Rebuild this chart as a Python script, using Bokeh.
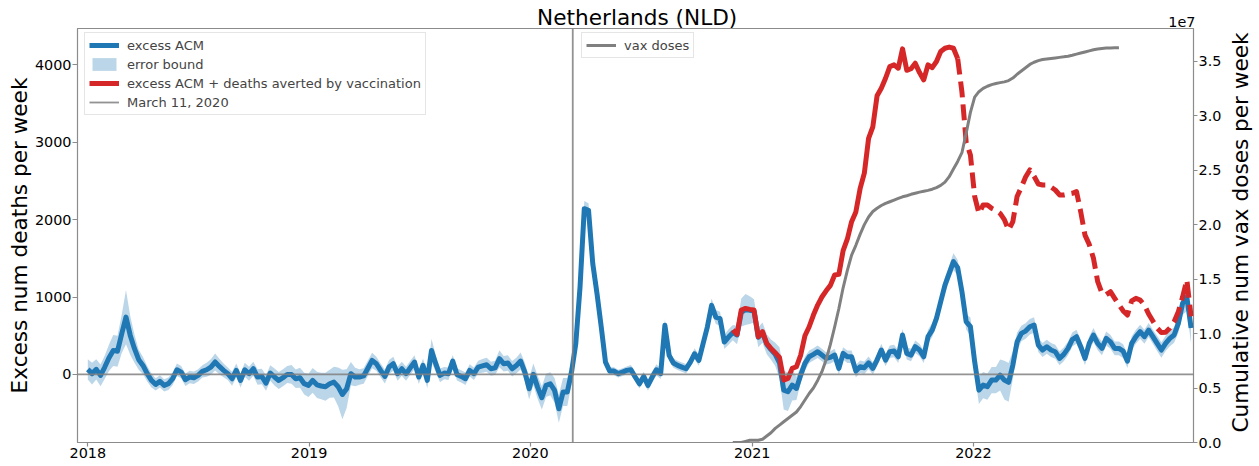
import math
import pandas as pd
from bokeh.plotting import figure
from bokeh.layouts import column, row
from bokeh.models import (Range1d, LinearAxis, FixedTicker, CustomJSTickFormatter,
                          DatetimeTickFormatter, Span, Legend, LegendItem, Label)
from bokeh.embed import file_html
from bokeh.resources import INLINE

FONT = "DejaVu Sans"

# ---------------- data (weekly) ----------------
first_week = "2018-01-01"

excess_2018 = [65, 10, 65, -13, 95, 215, 310, 300, 525, 741,
               504, 332, 190, 116, 9, -78, -129, -90, -142, -120,
               -56, 60, 30, -69, -34, -43, -13, 39, 60, 95,
               160, 103, 52, 9, -56, 52, -78, 60, 9, 73,
               -34, -26, -112, 17, -34, -78, -43, 0, 0, -56,
               -43, -120]
excess_2019 = [-142, -78, -135, -150, -160, -121, -100, -160, -259, -185,
               9, -34, -34, -20, 80, 181, 138, 52, -26, 95,
               138, 9, 73, 9, 86, 159, -34, 116, -78, 310,
               138, -13, 17, 9, 172, 0, -26, -56, 52, 9,
               95, 110, 125, 73, 86, 203, 138, 147, 73, 116,
               172, 30]
excess_2020 = [-185, 0, -164, -302, -142, -121, -207, -444, -228, -228,
               30, 397, 1129, 2142, 2121, 1431, 1043, 612, 159, 43,
               43, 9, 30, 52, 60, -34, -121, -26, -142, -34,
               60, 9, 634, 246, 147, 116, 95, 73, 159, 267,
               181, 397, 612, 892, 741, 720, 418, 483, 540, 510,
               800, 840]
excess_2021 = [830, 820, 480, 540, 390, 320, 260, 150, -203, -224,
               -138, -181, -9, 142, 228, 259, 293, 250, 207, 220,
               250, 78, 272, 228, 228, 43, 99, 86, 150, 78,
               185, 315, 185, 293, 302, 228, 509, 272, 250, 358,
               315, 228, 487, 573, 724, 940, 1155, 1306, 1457, 1380,
               1069, 681]
excess_2022 = [616, 164, -203, -138, -159, -73, -73, -9, -73, -103,
               121, 420, 530, 560, 616, 638, 379, 315, 358, 315,
               293, 207, 259, 336, 450, 487, 358, 207, 401, 509,
               401, 336, 465, 420, 336, 336, 300, 172, 401, 487,
               552, 487, 573, 487, 401, 315, 401, 465, 509, 659,
               918, 1000, 600]

error_2018 = [130, 140, 130, 140, 150, 170, 200, 200, 250, 350,
              250, 180, 130, 110, 100, 90, 80, 80, 80, 80,
              80, 80, 80, 80, 80, 80, 80, 80, 90, 100,
              110, 100, 90, 80, 90, 90, 90, 90, 90, 90,
              100, 100, 100, 100, 110, 110, 110, 110, 120, 120,
              130, 140]
error_2019 = [150, 160, 170, 170, 180, 180, 200, 250, 320, 250,
              150, 120, 100, 100, 100, 100, 90, 90, 90, 90,
              90, 90, 90, 90, 90, 90, 90, 90, 100, 150,
              110, 90, 80, 80, 80, 80, 80, 80, 80, 80,
              80, 90, 90, 90, 90, 110, 100, 100, 100, 100,
              110, 120]
error_2020 = [140, 140, 150, 150, 150, 150, 160, 180, 180, 180,
              150, 120, 100, 100, 90, 80, 70, 60, 60, 50,
              50, 50, 50, 50, 60, 60, 60, 60, 70, 70,
              70, 70, 80, 70, 60, 60, 60, 60, 60, 70,
              70, 80, 80, 90, 90, 90, 90, 100, 100, 120,
              180, 200]
error_2021 = [180, 150, 130, 130, 130, 130, 150, 200, 250, 250,
              200, 150, 100, 90, 80, 80, 80, 80, 80, 80,
              80, 80, 80, 80, 80, 80, 80, 80, 80, 80,
              80, 80, 80, 80, 80, 80, 80, 80, 80, 80,
              80, 80, 90, 90, 90, 90, 100, 100, 110, 100,
              100, 100]
error_2022 = [120, 150, 180, 170, 170, 170, 170, 200, 250, 250,
              180, 120, 100, 100, 100, 100, 90, 90, 90, 90,
              90, 90, 90, 90, 90, 90, 90, 90, 90, 90,
              90, 90, 90, 90, 90, 90, 90, 90, 90, 90,
              90, 90, 90, 90, 100, 100, 100, 100, 100, 120,
              150, 180, 200]

averted_start = "2020-11-30"
averted_solid = [573, 520, 832, 853, 840, 832, 487, 552, 401, 336,
                 280, 220, -73, -52, 78, 99, 250, 500, 616, 767,
                 896, 1000, 1080, 1150, 1284, 1293, 1600, 1750, 1974, 2100,
                 2400, 2600, 3050, 3200, 3600, 3698, 3827, 3978, 4000, 3957,
                 4207, 3930, 3950, 4021, 3900, 3806, 4000, 3965, 4043, 4172,
                 4215, 4230, 4215, 4080]
projected_start = "2021-12-06"
averted_dashed = [4080, 3650, 3000, 2836, 2300, 2082, 2189, 2189, 2146, 2120,
                  2080, 2000, 1866, 1974, 2300, 2420, 2550, 2642, 2560, 2460,
                  2448, 2448, 2420, 2383, 2319, 2319, 2330, 2340, 2362, 2100,
                  1800, 1680, 1500, 1198, 1050, 1030, 1069, 983, 900, 820,
                  767, 950, 983, 961, 896, 780, 690, 600, 540, 545,
                  600, 681, 810, 1000, 1220, 750]

vax_start = "2020-11-30"
vax_doses_millions = [0, 0, 0, 0.1, 0.2, 0.2, 0.2, 0.3, 0.6, 0.9,
                      1.3, 1.6, 1.9, 2.2, 2.5, 2.8, 3.3, 3.9, 4.5, 5.0,
                      5.7, 6.5, 7.6, 9.0, 10.6, 12.3, 14.2, 15.8, 17.2, 18.1,
                      19.1, 20.0, 20.7, 21.2, 21.5, 21.75, 21.95, 22.1, 22.25, 22.4,
                      22.55, 22.65, 22.78, 22.88, 22.98, 23.06, 23.14, 23.25, 23.4, 23.6,
                      23.9, 24.4, 25.1, 25.8, 26.6, 28.4, 30.3, 31.7, 32.2, 32.5,
                      32.7, 32.85, 32.95, 33.03, 33.1, 33.22, 33.45, 33.8, 34.1, 34.4,
                      34.7, 34.9, 35.05, 35.15, 35.2, 35.25, 35.3, 35.35, 35.4, 35.46,
                      35.55, 35.65, 35.75, 35.85, 35.95, 36.05, 36.12, 36.17, 36.2, 36.22,
                      36.23, 36.24]

march_11 = "2020-03-11"
year_ticks = [2018, 2019, 2020, 2021, 2022]
left_ticks = [0, 1000, 2000, 3000, 4000]
right_ticks_e7 = [0.0, 0.5, 1.0, 1.5, 2.0, 2.5, 3.0, 3.5]

title_text = "Netherlands (NLD)"
multiplier_text = "1e7"
left_label = "Excess num deaths per week"
right_label = "Cumulative num vax doses per week"

# ---------------- derived series ----------------
excess_acm = excess_2018 + excess_2019 + excess_2020 + excess_2021 + excess_2022
error_bound = error_2018 + error_2019 + error_2020 + error_2021 + error_2022
dates = pd.date_range(first_week, periods=len(excess_acm), freq="7D")
lower = [v - e for v, e in zip(excess_acm, error_bound)]
upper = [v + e for v, e in zip(excess_acm, error_bound)]
solid_dates = pd.date_range(averted_start, periods=len(averted_solid), freq="7D")
dashed_dates = pd.date_range(projected_start, periods=len(averted_dashed), freq="7D")
vax_dates = pd.date_range(vax_start, periods=len(vax_doses_millions), freq="7D")
vax_doses = [m * 1e6 for m in vax_doses_millions]

def ms(d):
    return pd.Timestamp(d).value // 10**6

# ---------------- layout sizes (pixels) ----------------
TOTAL_W = 1259
TOP_H = 28
MAIN_W, MAIN_H = 1224, 432
SIDE_W, SIDE_H = TOTAL_W - MAIN_W, 426
BOTTOM_AXIS = 18
frame_h = MAIN_H - BOTTOM_AXIS
Y_LO, Y_HI = -880, 4470

# ---------------- main figure ----------------
p = figure(width=MAIN_W, height=MAIN_H, x_axis_type="datetime",
           x_range=Range1d(pd.Timestamp("2017-12-15"), pd.Timestamp("2022-12-30")),
           y_range=Range1d(Y_LO, Y_HI),
           output_backend="svg", toolbar_location=None,
           min_border_left=77, min_border_right=28, min_border_top=0,
           min_border_bottom=10)
p.xgrid.visible = False
p.ygrid.visible = False
p.outline_line_color = "#8c8c8c"
p.outline_line_width = 1.2
p.background_fill_color = "white"
p.border_fill_color = "white"

p.extra_y_ranges = {"vax": Range1d(0, 3.8e7)}

GRAY_AX = "#8c8c8c"
for ax in [p.xaxis[0], p.yaxis[0]]:
    ax.axis_line_color = None
    ax.major_tick_line_color = GRAY_AX
    ax.major_tick_line_width = 1.2
    ax.minor_tick_line_color = None
    ax.major_tick_in = 0
    ax.major_label_text_font = FONT
    ax.major_label_text_font_size = "14.4px"
    ax.major_label_text_color = "black"
    ax.axis_label_text_font = FONT
    ax.axis_label_text_font_style = "normal"
    ax.axis_label_text_color = "black"

xa = p.xaxis[0]
xa.ticker = FixedTicker(ticks=[ms(f"{y}-01-01") for y in year_ticks])
xa.formatter = DatetimeTickFormatter(years="%Y", months="%Y", days="%Y", hours="%Y",
                                     minutes="%Y", seconds="%Y", milliseconds="%Y")
xa.major_tick_out = 4
xa.major_label_standoff = 1

ya = p.yaxis[0]
ya.ticker = FixedTicker(ticks=left_ticks)
ya.major_tick_out = 5
ya.major_label_standoff = 1
ya.axis_label = left_label
ya.axis_label_text_font_size = "21.6px"
ya.axis_label_standoff = 0

ra = LinearAxis(y_range_name="vax")
ra.ticker = FixedTicker(ticks=[t * 1e7 for t in right_ticks_e7])
ra.formatter = CustomJSTickFormatter(code="return (tick / 1e7).toFixed(1);")
ra.axis_line_color = None
ra.major_tick_line_color = GRAY_AX
ra.major_tick_line_width = 1.2
ra.minor_tick_line_color = None
ra.major_tick_in = 0
ra.major_tick_out = 4
ra.major_label_standoff = 1
ra.major_label_text_font = FONT
ra.major_label_text_font_size = "14.4px"
ra.major_label_text_color = "black"
p.add_layout(ra, "right")

p.add_layout(Span(location=0, dimension="width", line_color="gray",
                  line_alpha=0.85, line_width=1.6))

BLUE, RED = "#1f77b4", "#d62728"
band_r = p.varea(x=dates, y1=lower, y2=upper, fill_color=BLUE, fill_alpha=0.3)
blue_r = p.line(x=dates, y=excess_acm, line_color=BLUE, line_width=5, line_join="round")
red_r = p.line(x=solid_dates, y=averted_solid, line_color=RED, line_width=5, line_join="round")
p.line(x=dashed_dates, y=averted_dashed, line_color=RED, line_width=5,
       line_dash="16 7", line_join="round")
march_r = p.line(x=[pd.Timestamp(march_11)] * 2, y=[Y_LO, Y_HI], line_color="gray",
                 line_alpha=0.85, line_width=1.8)
vax_r = p.line(x=vax_dates, y=vax_doses, line_color="gray", line_width=3,
               y_range_name="vax", line_join="round")

def style_legend(lg):
    lg.label_text_font = FONT
    lg.label_text_font_size = "13px"
    lg.glyph_width = 30
    lg.glyph_height = 16
    lg.label_height = 16
    lg.spacing = 3
    lg.padding = 4
    lg.label_standoff = 8
    lg.border_line_color = "#cccccc"
    lg.border_line_width = 1
    lg.background_fill_color = "white"
    lg.background_fill_alpha = 0.8
    lg.margin = 0

leg1 = Legend(items=[LegendItem(label="excess ACM", renderers=[blue_r]),
                     LegendItem(label="error bound", renderers=[band_r]),
                     LegendItem(label="excess ACM + deaths averted by vaccination", renderers=[red_r]),
                     LegendItem(label="March 11, 2020", renderers=[march_r])],
              location=(7, frame_h - 6 - 81))
style_legend(leg1)
p.add_layout(leg1, "center")

leg2 = Legend(items=[LegendItem(label="vax doses", renderers=[vax_r])],
              location=(504, frame_h - 6 - 24))
style_legend(leg2)
p.add_layout(leg2, "center")

# ---------------- text strips around the main figure ----------------
def strip(w, h, y_axis=None):
    f = figure(width=w, height=h, x_range=Range1d(0, 1), y_range=Range1d(0, 1),
               output_backend="svg", toolbar_location=None,
               x_axis_location=None, y_axis_location=y_axis, min_border=0)
    f.xgrid.visible = False
    f.ygrid.visible = False
    f.outline_line_color = None
    f.background_fill_color = "white"
    f.border_fill_color = "white"
    return f

top = strip(TOTAL_W, TOP_H)
top.add_layout(Label(x=636.7, y=TOP_H - 16.5, x_units="screen", y_units="screen",
                     text=title_text, text_font=FONT, text_font_size="21.6px",
                     text_align="center", text_baseline="middle", text_color="black"))
top.add_layout(Label(x=1195, y=TOP_H - 21, x_units="screen", y_units="screen",
                     text=multiplier_text, text_font=FONT, text_font_size="14.4px",
                     text_align="right", text_baseline="middle", text_color="black"))

side = strip(SIDE_W, SIDE_H, y_axis="left")
sa = side.yaxis[0]
sa.ticker = FixedTicker(ticks=[])
sa.axis_line_color = None
sa.major_tick_line_color = None
sa.minor_tick_line_color = None
sa.major_tick_out = 0
sa.major_tick_in = 0
sa.major_label_standoff = 0
sa.axis_label = right_label
sa.axis_label_text_font = FONT
sa.axis_label_text_font_size = "21.6px"
sa.axis_label_text_font_style = "normal"
sa.axis_label_text_color = "black"
sa.axis_label_standoff = 0

layout = column(top, row(p, side, spacing=0), spacing=0)
open("out.html", "w").write(file_html(layout, INLINE))
